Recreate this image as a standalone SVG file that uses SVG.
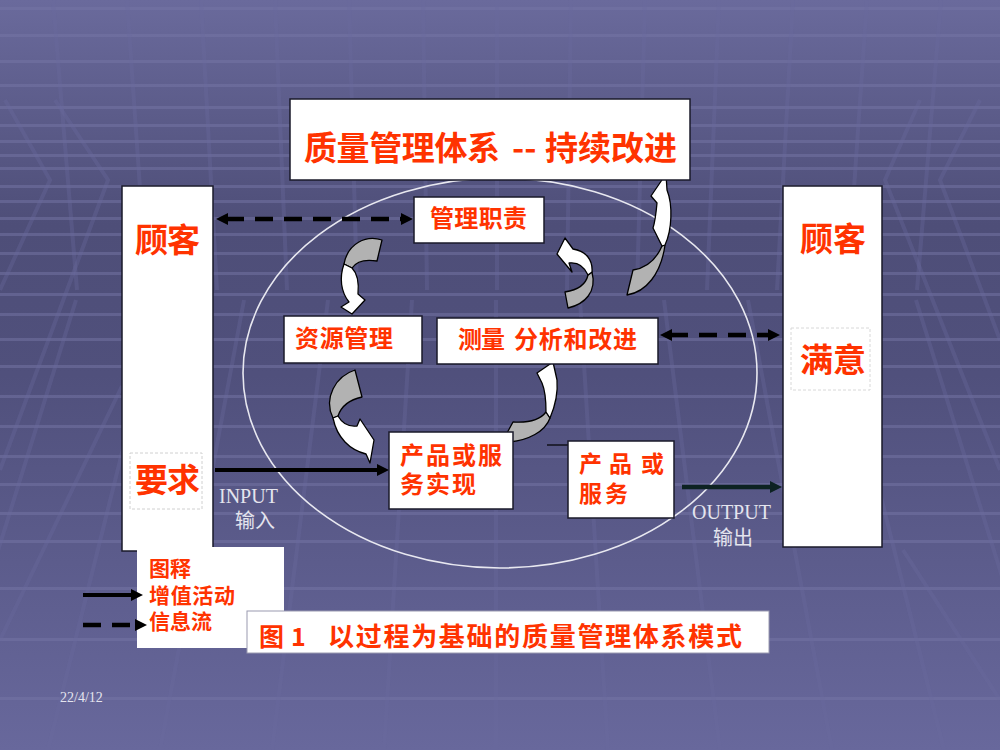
<svg xmlns="http://www.w3.org/2000/svg" width="1000" height="750" viewBox="0 0 1000 750">
<defs>
<linearGradient id="bg" x1="0" y1="0" x2="0" y2="1">
<stop offset="0" stop-color="#6a6a9c"/>
<stop offset="0.3" stop-color="#4e4e78"/>
<stop offset="0.5" stop-color="#50507c"/>
<stop offset="1" stop-color="#68689c"/>
</linearGradient>
<marker id="ah" viewBox="0 0 12 12" markerWidth="12" markerHeight="12" refX="2" refY="6" markerUnits="userSpaceOnUse" orient="auto-start-reverse">
<path d="M0,0 L12,6 L0,12 z" fill="#000"/>
</marker>
<marker id="ahd" viewBox="0 0 12 12" markerWidth="12" markerHeight="13" refX="2" refY="6" markerUnits="userSpaceOnUse" orient="auto">
<path d="M0,0 L12,6 L0,12 z" fill="#0d2222"/>
</marker>
<style>
.box{fill:#fff;stroke:#1a1a2a;stroke-width:1.5}
.t{font-family:"Noto Sans CJK SC","Noto Sans CJK JP",sans-serif;font-weight:bold;fill:#ff3300}
.w{font-family:"Liberation Serif","Noto Sans CJK SC",serif;fill:#e4e4ee}
.dash{stroke:#000;stroke-width:4.5;stroke-dasharray:18 11;fill:none}
.solid{stroke:#000;stroke-width:4;fill:none}
.g{fill:#b2b2b2;stroke:#000;stroke-width:1.3;stroke-linejoin:round}
.wh{fill:#fff;stroke:#000;stroke-width:1.3;stroke-linejoin:round}
.stripe{fill:#7676a6;opacity:0.5}
.gl{stroke:#6a6a9e;stroke-width:4;opacity:0.35;fill:none}
</style>
</defs>
<g id="background">
<rect x="0" y="0" width="1000" height="750" fill="url(#bg)"/>
<g>
<rect class="stripe" x="0" y="7" width="1000" height="3"/>
<rect class="stripe" x="0" y="34" width="1000" height="3"/>
<rect class="stripe" x="0" y="60" width="1000" height="3"/>
<rect class="stripe" x="0" y="84" width="1000" height="3"/>
<rect class="stripe" x="0" y="106" width="1000" height="3"/>
<rect class="stripe" x="0" y="124" width="1000" height="3"/>
<rect class="stripe" x="0" y="140" width="1000" height="3"/>
<rect class="stripe" x="0" y="154" width="1000" height="3"/>
<rect class="stripe" x="0" y="167" width="1000" height="3"/>
<rect class="stripe" x="0" y="185" width="1000" height="3"/>
<rect class="stripe" x="0" y="200" width="1000" height="3"/>
<rect class="stripe" x="0" y="217" width="1000" height="3"/>
<rect class="stripe" x="0" y="233" width="1000" height="3"/>
<rect class="stripe" x="0" y="252" width="1000" height="3"/>
<rect class="stripe" x="0" y="272" width="1000" height="3"/>
<rect class="stripe" x="0" y="293" width="1000" height="3"/>
<rect class="stripe" x="0" y="313" width="1000" height="3"/>
<rect class="stripe" x="0" y="338" width="1000" height="3"/>
<rect class="stripe" x="0" y="365" width="1000" height="3"/>
<rect class="stripe" x="0" y="395" width="1000" height="3"/>
<rect class="stripe" x="0" y="425" width="1000" height="3"/>
<rect class="stripe" x="0" y="455" width="1000" height="3"/>
<rect class="stripe" x="0" y="483" width="1000" height="3"/>
<rect class="stripe" x="0" y="512" width="1000" height="3"/>
<rect class="stripe" x="0" y="540" width="1000" height="3"/>
<rect class="stripe" x="0" y="587" width="1000" height="3"/>
<rect class="stripe" x="0" y="638" width="1000" height="3"/>
<rect class="stripe" x="0" y="697" width="1000" height="3"/>
</g>
<g>
<path class="gl" d="M53,0 L77,290 M127,0 L147,290 M201,0 L217,290 M275,0 L287,290 M349,0 L357,290 M423,0 L427,290 M497,0 L497,290 M571,0 L567,290 M645,0 L637,290 M719,0 L707,290 M793,0 L777,290 M867,0 L847,290 M941,0 L917,290"/>
<path class="gl" d="M496,300 L496,750 M580,300 L608,750 M664,300 L720,750 M748,300 L832,750 M832,300 L944,750 M916,300 L1056,750 M412,300 L384,750 M328,300 L272,750 M244,300 L160,750 M160,300 L48,750 M76,300 L-64,750"/>
<path class="gl" d="M5,100 L50,180 L0,290 M55,100 L108,180 L0,470 M122,386 L0,640 M920,100 L885,180 L1000,470 M980,100 L940,180 L1000,340 M903,550 L1000,700"/>
</g>
</g>
<ellipse id="cycle-ellipse" cx="500" cy="373" rx="257" ry="195" fill="none" stroke="#e8e8f0" stroke-width="1.6"/>
<g id="connectors">
<line class="dash" x1="226" y1="219" x2="403" y2="219" marker-start="url(#ah)" marker-end="url(#ah)"/>
<line class="dash" x1="670" y1="335" x2="770" y2="335" marker-start="url(#ah)" marker-end="url(#ah)"/>
<line class="solid" x1="215" y1="470" x2="379" y2="470" marker-end="url(#ah)"/>
<line x1="682" y1="487" x2="772" y2="487" stroke="#0d2222" stroke-width="4.5" marker-end="url(#ahd)"/>
<line x1="547" y1="445" x2="568" y2="445" stroke="#000" stroke-width="1.2"/>
<g id="curved-arrows">
<path class="g" d="M382,240 C366,235 348,243 344,264 L352,268 C356,262 365,259 377,261 Z"/>
<path class="wh" d="M344,264 C339,278 341,292 349,302 L341,307 L352,314 L365,300 L358,294 C359,283 357,273 352,268 Z"/>
<path class="g" d="M355,370 C336,376 323,398 333,418 L338,416 C341,407 348,400 362,397 Z"/>
<path class="wh" d="M333,418 C337,438 350,450 366,454 L370,463 L374,440 L360,419 L357,426 C349,427 342,423 338,416 Z"/>
<path class="g" d="M507,433 L510,442 C528,440 545,432 550,418 L546,412 C540,420 528,423 513,422 Z"/>
<path class="wh" d="M546,412 C546,400 545,390 542,383 L537,373 L553,362 L557,380 C558,392 556,404 550,418 Z"/>
<path class="g" d="M568,308 C585,304 597,292 592,272 L588,275 C586,284 578,290 565,292 Z"/>
<path class="wh" d="M592,272 C593,260 586,251 573,249 L565,238 L557,254 L572,272 L569,263 C577,262 584,266 588,275 Z"/>
<path class="g" d="M627,295 C646,292 661,274 665,245 L662,246 C656,260 646,268 633,270 Z"/>
<path class="wh" d="M665,245 C672,230 673,205 667,190 L666,174 L651,196 L657,203 C656,214 655,222 653,228 L662,246 Z"/>
</g>
</g>
<g id="title">
<rect class="box" x="290" y="99" width="400" height="81" stroke-width="2"/>
<text class="t" x="304" y="160" font-size="33" textLength="196">质量管理体系</text>
<text class="t" x="512" y="160" font-size="33">--</text>
<text class="t" x="545" y="160" font-size="33" textLength="132">持续改进</text>
</g>
<g id="customer-left">
<rect class="box" x="122" y="186" width="91" height="365"/>
<text class="t" x="135" y="252" font-size="33" textLength="65">顾客</text>
<rect x="130" y="453" width="72" height="56" fill="none" stroke="#d0d0d0" stroke-width="1" stroke-dasharray="3 2"/>
<text class="t" x="135" y="492" font-size="33" textLength="65">要求</text>
</g>
<g id="customer-right">
<rect class="box" x="783" y="186" width="99" height="361"/>
<text class="t" x="800" y="251" font-size="33" textLength="66">顾客</text>
<rect x="791" y="328" width="79" height="62" fill="none" stroke="#d8d8d8" stroke-width="1" stroke-dasharray="3 2"/>
<text class="t" x="800" y="372" font-size="33" textLength="66">满意</text>
</g>
<g id="management-responsibility">
<rect class="box" x="414" y="197" width="130" height="46"/>
<text class="t" x="430" y="227" font-size="24" textLength="97">管理职责</text>
</g>
<g id="resource-management">
<rect class="box" x="284" y="316" width="138" height="47"/>
<text class="t" x="295" y="347" font-size="24" textLength="98">资源管理</text>
</g>
<g id="measurement">
<rect class="box" x="437" y="318" width="221" height="46"/>
<text class="t" x="458" y="348" font-size="24" textLength="47">测量</text>
<text class="t" x="514" y="348" font-size="24" textLength="123">分析和改进</text>
</g>
<g id="product-realization">
<rect class="box" x="389" y="432" width="124" height="77"/>
<text class="t" x="400" y="464" font-size="24" textLength="102">产品或服</text>
<text class="t" x="400" y="493" font-size="24" textLength="76">务实现</text>
</g>
<g id="product">
<rect class="box" x="568" y="441" width="106" height="77"/>
<text class="t" x="579" y="472" font-size="23">产</text>
<text class="t" x="609" y="472" font-size="23">品</text>
<text class="t" x="641" y="472" font-size="23">或</text>
<text class="t" x="579" y="502" font-size="23" textLength="49">服务</text>
</g>
<g id="io-labels">
<text class="w" x="219" y="503" font-size="20">INPUT</text>
<text class="w" x="235" y="528" font-size="20">输入</text>
<text class="w" x="692" y="519" font-size="20">OUTPUT</text>
<text class="w" x="713" y="545" font-size="20">输出</text>
</g>
<g id="legend">
<rect x="137" y="547" width="147" height="101" fill="#fff"/>
<text class="t" x="149" y="576" font-size="21">图释</text>
<text class="t" x="149" y="603" font-size="21" textLength="86">增值活动</text>
<text class="t" x="149" y="629" font-size="21">信息流</text>
<line class="solid" x1="83" y1="595" x2="133" y2="595" marker-end="url(#ah)"/>
<line class="dash" x1="83" y1="625" x2="137" y2="625" marker-end="url(#ah)"/>
</g>
<g id="caption">
<rect x="247" y="611" width="522" height="42" fill="#fff" stroke="#9a9ab0" stroke-width="1"/>
<text class="t" x="259" y="646" font-size="25">图</text>
<text class="t" x="291" y="646" font-size="25">1</text>
<text class="t" x="328" y="646" font-size="26" textLength="414">以过程为基础的质量管理体系模式</text>
</g>
<text class="w" x="60" y="702" font-size="14" fill="#d8d8e4">22/4/12</text>
</svg>
